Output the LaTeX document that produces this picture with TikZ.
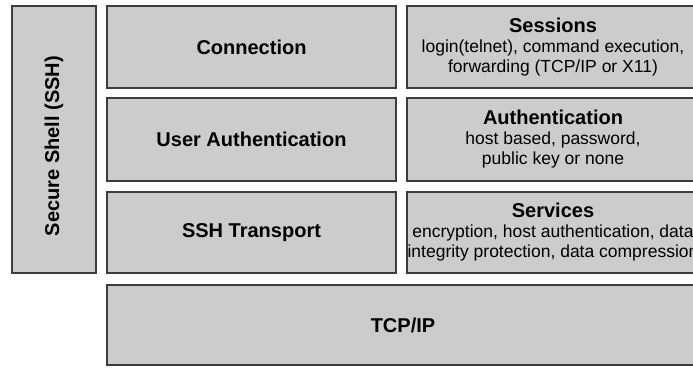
\documentclass[tikz,border=0pt]{standalone}
\usepackage{fontspec}
\setmainfont{Liberation Sans}
\definecolor{boxfill}{HTML}{CCCCCC}
\definecolor{boxline}{HTML}{3C3C3C}
\begin{document}
\begin{tikzpicture}[x=1pt, y=-1pt,
  layer/.style={draw=boxline, fill=boxfill, line width=1.5pt, inner sep=0pt},
  title/.style={font=\fontsize{20}{24}\selectfont\bfseries},
  detail/.style={align=center, font=\fontsize{17.5}{20}\selectfont, inner sep=0pt}]
  \useasboundingbox (0,0) rectangle (693,367);
  \clip (0,0) rectangle (693,367);

  % protocol stack frame on the left
  \node[layer, minimum width=84pt, minimum height=267pt] (ssh) at (54,139.5) {};
  \node[title, rotate=90, inner sep=0pt] (sshlabel) at (54,146) {Secure Shell (SSH)};

  % the three SSH layers
  \node[layer, title, minimum width=289pt, minimum height=82pt] (conn) at (251.5,47) {Connection};
  \node[layer, title, minimum width=289pt, minimum height=83pt] (uauth) at (251.5,139.5) {User Authentication};
  \node[layer, title, minimum width=289pt, minimum height=81pt] (trans) at (251.5,232.5) {SSH Transport};

  % what each layer provides
  \node[layer, minimum width=292pt, minimum height=82pt] (sess) at (553,47) {};
  \node[detail] (sesstext) at (sess.center)
    {{\fontsize{20}{20}\selectfont\bfseries Sessions}\\
     login(telnet), command execution,\\
     forwarding (TCP/IP or X11)};

  \node[layer, minimum width=292pt, minimum height=83pt] (auth) at (553,139.5) {};
  \node[detail] (authtext) at (auth.center)
    {{\fontsize{20}{20}\selectfont\bfseries Authentication}\\
     host based, password,\\
     public key or none};

  \node[layer, minimum width=292pt, minimum height=81pt] (serv) at (553,232.5) {};
  \node[detail] (servtext) at (serv.center)
    {{\fontsize{20}{20}\selectfont\bfseries Services}\\
     encryption, host authentication, data\\
     integrity protection, data compression};

  % underlying transport
  \node[layer, title, minimum width=592pt, minimum height=80pt] (tcp) at (403,325) {TCP/IP};
\end{tikzpicture}
\end{document}
